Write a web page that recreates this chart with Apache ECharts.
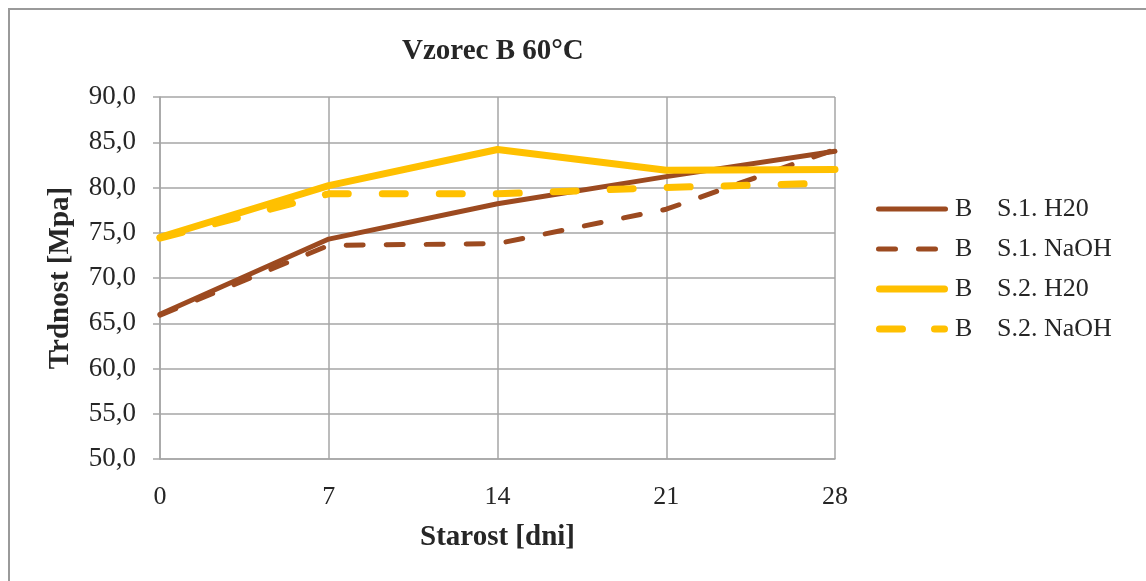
<!DOCTYPE html>
<html>
<head>
<meta charset="utf-8">
<title>Vzorec B 60°C</title>
<script src="https://cdn.jsdelivr.net/npm/echarts@6/dist/echarts.min.js"></script>
<style>
  html, body { margin: 0; padding: 0; background: #fff; }
  #chart { width: 1146px; height: 581px; }
</style>
</head>
<body>
<div id="chart"></div>
<script>
// Age of specimens in days
const days = [0, 7, 14, 21, 28];
// Strength values [MPa]
const s1H2O  = [66.0, 74.3, 78.2, 81.2, 84.0];
const s1NaOH = [65.9, 73.6, 73.8, 77.6, 84.2];
const s2H2O  = [74.5, 80.2, 84.2, 81.9, 82.0];
const s2NaOH = [74.4, 79.3, 79.3, 80.0, 80.5];
const seriesNames = ['B\tS.1. H20', 'B\tS.1. NaOH', 'B\tS.2. H20', 'B\tS.2. NaOH'];

const BROWN = '#9C4A20';
const GOLD = '#FFC000';
const GRID = '#a6a6a6';
const TEXT = '#262626';
const SERIF = '"Liberation Serif", "Times New Roman", serif';

// Legend icons: 72x18 box (corner anchors keep the box size), rounded bars inside
const anchors = 'M0,0L0,0M72,18L72,18';
function bar(x0, x1, t) {
  const r = t / 2, y = 9 - r;
  return 'M' + (x0 + r) + ',' + y + 'H' + (x1 - r) +
    'A' + r + ',' + r + ' 0 0 1 ' + (x1 - r) + ',' + (y + t) +
    'H' + (x0 + r) + 'A' + r + ',' + r + ' 0 0 1 ' + (x0 + r) + ',' + y + 'Z';
}
const icons = [
  'path://' + anchors + bar(0, 72, 5),
  'path://' + anchors + bar(0, 22, 5) + bar(40, 62, 5),
  'path://' + anchors + bar(0, 72, 7),
  'path://' + anchors + bar(0, 30, 7) + bar(55, 72, 7)
];
const legendColors = [BROWN, BROWN, GOLD, GOLD];

const pairs = vals => days.map((d, i) => [d, vals[i]]);

function lineSeries(name, vals, color, width, dash) {
  return {
    name: name,
    type: 'line',
    data: pairs(vals),
    symbol: 'none',
    showSymbol: false,
    smooth: false,
    lineStyle: {
      color: color,
      width: width,
      type: dash || 'solid',
      cap: 'round',
      join: 'round'
    },
    itemStyle: { color: color }
  };
}

const chart = echarts.init(document.getElementById('chart'), null, { renderer: 'canvas' });

chart.setOption({
  animation: false,
  backgroundColor: '#ffffff',
  textStyle: { fontFamily: SERIF },
  graphic: [{
    type: 'rect',
    shape: { x: 9, y: 9, width: 1300, height: 900 },
    style: { fill: 'none', stroke: '#9a9a9a', lineWidth: 2 },
    silent: true
  }],
  title: {
    text: 'Vzorec B 60°C',
    left: 397,
    top: 32,
    textStyle: { fontFamily: SERIF, fontWeight: 'bold', fontSize: 29, color: TEXT }
  },
  grid: { left: 160, right: 311, top: 97, bottom: 122, containLabel: false },
  xAxis: {
    type: 'value',
    min: 0,
    max: 28,
    interval: 7,
    name: 'Starost [dni]',
    nameLocation: 'middle',
    nameGap: 64,
    nameTextStyle: { fontFamily: SERIF, fontWeight: 'bold', fontSize: 29, color: TEXT },
    axisLine: { show: true, lineStyle: { color: GRID, width: 1.5 } },
    axisTick: { show: false },
    axisLabel: { fontFamily: SERIF, fontSize: 26, color: TEXT, margin: 25 },
    splitLine: { show: true, lineStyle: { color: GRID, width: 1.5 } }
  },
  yAxis: {
    type: 'value',
    min: 50,
    max: 90,
    interval: 5,
    name: 'Trdnost [Mpa]',
    nameLocation: 'middle',
    nameGap: 85,
    nameTextStyle: { fontFamily: SERIF, fontWeight: 'bold', fontSize: 29, color: TEXT },
    axisLine: { show: true, lineStyle: { color: GRID, width: 1.5 } },
    axisTick: { show: true, inside: false, length: 7, lineStyle: { color: GRID, width: 1.5 } },
    axisLabel: {
      fontFamily: SERIF, fontSize: 27, color: TEXT, margin: 24,
      formatter: v => v.toFixed(1).replace('.', ',')
    },
    splitLine: { show: true, lineStyle: { color: GRID, width: 1.5 } }
  },
  legend: {
    orient: 'vertical',
    left: 876,
    top: 196,
    padding: 0,
    itemWidth: 72,
    itemHeight: 18,
    itemGap: 14,
    data: seriesNames.map((n, i) => ({
      name: n,
      icon: icons[i],
      itemStyle: { color: legendColors[i], borderWidth: 0 }
    })),
    formatter: name => {
      const parts = name.split('\t');
      return '{a|' + parts[0] + '}{b|' + parts[1] + '}';
    },
    textStyle: {
      fontFamily: SERIF,
      fontSize: 26,
      color: TEXT,
      rich: {
        a: { fontFamily: SERIF, fontSize: 26, color: TEXT, width: 42, padding: [0, 0, 0, 2] },
        b: { fontFamily: SERIF, fontSize: 26, color: TEXT }
      }
    }
  },
  series: [
    lineSeries(seriesNames[0], s1H2O, BROWN, 5),
    lineSeries(seriesNames[1], s1NaOH, BROWN, 5, [17, 23]),
    lineSeries(seriesNames[2], s2H2O, GOLD, 7),
    lineSeries(seriesNames[3], s2NaOH, GOLD, 7, [23, 34])
  ]
});
</script>
</body>
</html>
